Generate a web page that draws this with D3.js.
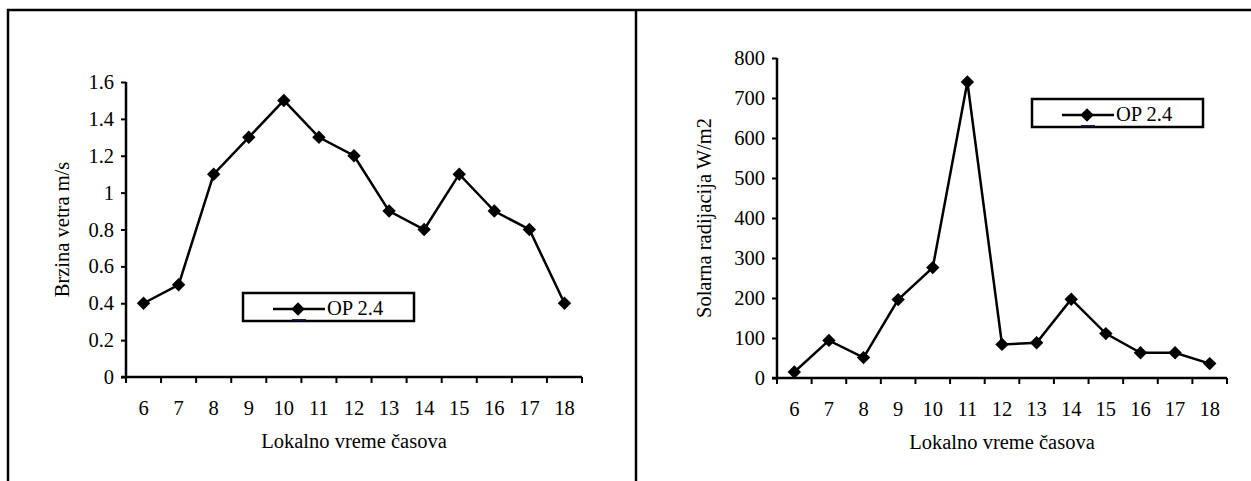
<!DOCTYPE html>
<html>
<head>
<meta charset="utf-8">
<script src="https://cdn.jsdelivr.net/npm/d3@7"></script>
<style>
  body { margin: 0; background: #fff; }
  svg text { font-family: "Liberation Serif", "Times New Roman", "DejaVu Serif", serif !important; fill: #000; }
</style>
</head>
<body>
<svg width="1251" height="481"></svg>
<script>
var hours = ["6", "7", "8", "9", "10", "11", "12", "13", "14", "15", "16", "17", "18"];
var windSpeed = [0.4, 0.5, 1.1, 1.3, 1.5, 1.3, 1.2, 0.9, 0.8, 1.1, 0.9, 0.8, 0.4];
var solarRad = [15, 94, 51, 196, 276, 740, 84, 88, 197, 111, 63, 63, 36];
var windTicks = [0, 0.2, 0.4, 0.6, 0.8, 1, 1.2, 1.4, 1.6];
var solarTicks = [0, 100, 200, 300, 400, 500, 600, 700, 800];
var seriesName = "OP 2.4";
var xTitle = "Lokalno vreme časova";

var fs = 20.5;
var svg = d3.select("svg");

// frame round the two panels
svg.append("path")
  .attr("d", "M8,481V10H1251M636,10V481")
  .attr("fill", "none")
  .attr("stroke", "#000")
  .attr("stroke-width", 2.5);

function drawPanel(p) {
  var g = svg.append("g");

  var x = d3.scaleBand().domain(hours).range([p.left, p.right]);
  var y = d3.scaleLinear().domain([0, p.max]).range([p.bottom, p.top]);

  // y axis
  var yAxis = g.append("g")
    .attr("transform", "translate(" + p.left + ",0)")
    .call(d3.axisLeft(y).tickValues(p.ticks).tickSize(5).tickPadding(7)
      .tickFormat(function (d) { return String(d); }));
  // x axis, ticks go on the category edges
  var xAxis = g.append("g")
    .attr("transform", "translate(0," + p.bottom + ")")
    .call(d3.axisBottom(x).tickSize(0).tickPadding(23));
  [yAxis, xAxis].forEach(function (a) {
    a.attr("font-size", fs);
    a.select(".domain").attr("stroke-width", 2.5);
    a.selectAll("line").attr("stroke-width", 2);
  });
  yAxis.select(".domain").attr("d", "M0," + p.top + "V" + p.bottom);
  xAxis.select(".domain").attr("d", "M" + (p.left - 5) + ",0H" + p.right);

  var edges = hours.map(function (h) { return x(h); }).concat([p.right]);
  g.selectAll(".xtick").data(edges).enter().append("line")
    .attr("x1", function (d) { return d; })
    .attr("x2", function (d) { return d; })
    .attr("y1", p.bottom)
    .attr("y2", p.bottom + 6)
    .attr("stroke", "#000")
    .attr("stroke-width", 2);

  var cx = function (d, i) { return x(hours[i]) + x.bandwidth() / 2; };

  g.append("path")
    .datum(p.values)
    .attr("fill", "none")
    .attr("stroke", "#000")
    .attr("stroke-width", 2.5)
    .attr("d", d3.line().x(cx).y(function (d) { return y(d); }));

  var diamond = d3.symbol().type(d3.symbolDiamond2).size(115);
  g.selectAll(".pt").data(p.values).enter().append("path")
    .attr("d", diamond)
    .attr("transform", function (d, i) { return "translate(" + cx(d, i) + "," + y(d) + ")"; })
    .attr("fill", "#000");

  // axis titles
  g.append("text")
    .attr("transform", "translate(" + p.yTitleX + "," + ((p.top + p.bottom) / 2) + ") rotate(-90)")
    .attr("text-anchor", "middle")
    .attr("dominant-baseline", "central")
    .attr("font-size", fs)
    .text(p.yTitle);
  g.append("text")
    .attr("x", (p.left + p.right) / 2)
    .attr("y", p.bottom + 71)
    .attr("text-anchor", "middle")
    .attr("font-size", fs)
    .text(xTitle);

  // legend
  var lg = g.append("g").attr("transform", "translate(" + p.legX + "," + p.legY + ")");
  lg.append("rect")
    .attr("width", 171).attr("height", 28)
    .attr("fill", "#fff").attr("stroke", "#000").attr("stroke-width", 2.5);
  lg.append("line")
    .attr("x1", 30).attr("x2", 82).attr("y1", 16).attr("y2", 16)
    .attr("stroke", "#000").attr("stroke-width", 2.5);
  lg.append("path")
    .attr("d", diamond)
    .attr("transform", "translate(55,16)")
    .attr("fill", "#000");
  lg.append("rect")
    .attr("x", 49).attr("y", 26).attr("width", 14).attr("height", 1.5)
    .attr("fill", "#1a1a80");
  lg.append("text")
    .attr("x", 84).attr("y", 22)
    .attr("font-size", fs)
    .text(seriesName);
}

drawPanel({
  values: windSpeed, ticks: windTicks, max: 1.6,
  left: 126, right: 582, top: 82, bottom: 377,
  yTitle: "Brzina vetra m/s", yTitleX: 62,
  legX: 243, legY: 293
});

drawPanel({
  values: solarRad, ticks: solarTicks, max: 800,
  left: 777, right: 1227, top: 58, bottom: 378,
  yTitle: "Solarna radijacija W/m2", yTitleX: 704,
  legX: 1032, legY: 99
});
</script>
</body>
</html>
